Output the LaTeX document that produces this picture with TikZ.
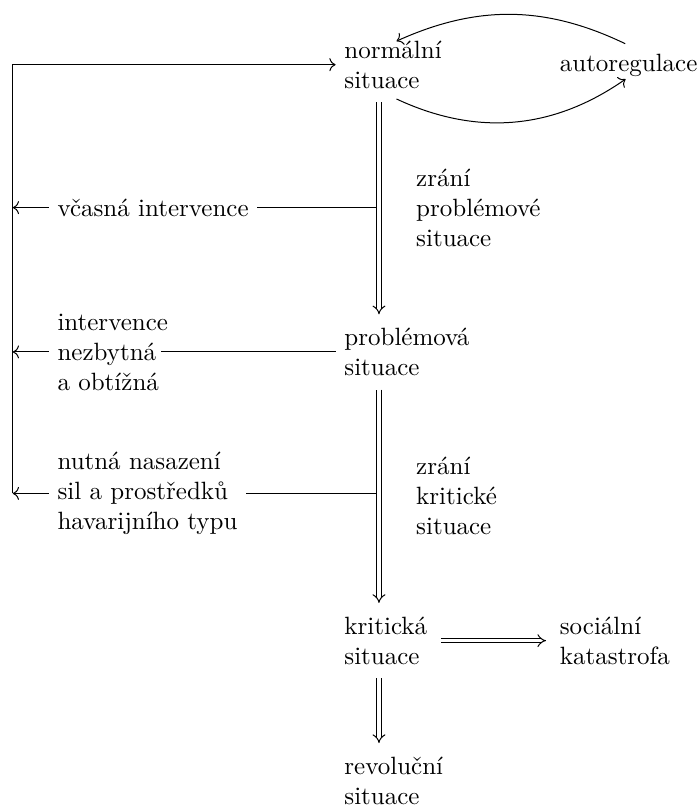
\documentclass[tikz,border=0pt]{standalone}
\usetikzlibrary{arrows.meta}

\begin{document}
\begin{tikzpicture}[
    lbl/.style={align=left, anchor=west},
    dbl/.style={double, double distance=1.4pt, -{Implies[length=6pt, width=9pt]}, shorten <=2pt, shorten >=2pt},
    loopy/.style={->, shorten <=1.5pt, shorten >=1.5pt}]
    \useasboundingbox (0,0) rectangle (9.84,-11.35);
    \coordinate (loopx) at (0.18,0);
    \coordinate (col) at (5.33,0);
    % main column
    \node [lbl] (norm) at (4.72,-0.91) {normální\\situace};
    \node [lbl] (auto) at (7.75,-0.92) {autoregulace};
    \node [lbl] (prob) at (4.72,-4.95) {problémová\\situace};
    \node [lbl] (krit) at (4.72,-9.01) {kritická\\situace};
    \node [lbl] (soc) at (7.75,-9.01) {sociální\\katastrofa};
    \node [lbl] (rev) at (4.72,-10.98) {revoluční\\situace};
    \node [lbl] (zrani1) at (5.73,-2.93) {zrání\\problémové\\situace};
    \node [lbl] (zrani2) at (5.73,-6.97) {zrání\\kritické\\situace};
    % left side
    \node [lbl] (vcas) at (0.685,-2.92) {včasná intervence};
    \node [lbl] (nezb) at (0.685,-4.95) {intervence\\nezbytná\\a obtížná};
    \node [lbl] (havar) at (0.685,-6.94) {nutná nasazení\\sil a prostředků\\havarijního typu};
    \draw [loopy] (norm.south) to [bend right=30] ([yshift=0.12cm]auto.south);
    \draw [loopy] (auto.north) to [bend right=25] ([yshift=-0.15cm]norm.north);
    \draw [->] (havar.west -| loopx) |- (norm.west);
    \draw [->] (vcas.west) -- (vcas.west -| loopx);
    \draw [->] (nezb.west) -- (nezb.west -| loopx);
    \draw [->] (havar.west) -- (havar.west -| loopx);
    \draw (vcas.east) -- (vcas.east -| col);
    \draw ([xshift=-0.22cm]nezb.east) -- (prob.west);
    \draw (havar.east) -- (havar.east -| col);
    \draw [dbl] (norm.south -| col) -- (prob.north -| col);
    \draw [dbl] (prob.south -| col) -- (krit.north -| col);
    \draw [dbl] (krit.south -| col) -- (rev.north -| col);
    \draw [dbl] (krit.east) -- (soc.west);
\end{tikzpicture}
\end{document}
